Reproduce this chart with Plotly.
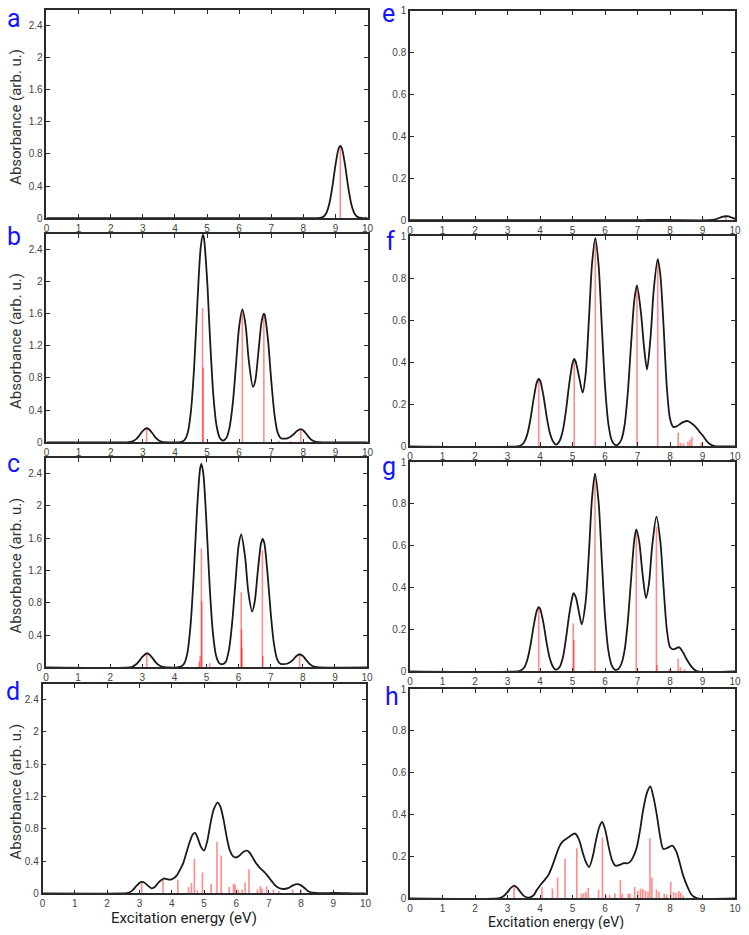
import plotly.graph_objects as go

# ---------------- data ----------------
x_ticks = [0, 1, 2, 3, 4, 5, 6, 7, 8, 9, 10]
x_tick_labels = ["0", "1", "2", "3", "4", "5", "6", "7", "8", "9", "10"]
left_y_ticks = [0, 0.4, 0.8, 1.2, 1.6, 2, 2.4]
left_y_tick_labels = ["0", "0.4", "0.8", "1.2", "1.6", "2", "2.4"]
right_y_ticks = [0, 0.2, 0.4, 0.6, 0.8, 1]
right_y_tick_labels = ["0", "0.2", "0.4", "0.6", "0.8", "1"]

# broadened spectra (energy eV, absorbance)
a_curve = [(0, 0), (8.4, 0), (8.5, 0.003), (8.6, 0.014), (8.7, 0.054), (8.8, 0.165), (8.9, 0.38),
           (9.0, 0.66), (9.1, 0.87), (9.15, 0.90), (9.2, 0.87), (9.3, 0.66), (9.4, 0.38), (9.5, 0.165),
           (9.6, 0.054), (9.7, 0.014), (9.8, 0.003), (9.9, 0), (10, 0)]
b_curve = [(0, 0), (2.5, 0), (2.6, 0.004), (2.7, 0.015), (2.8, 0.042), (2.9, 0.089), (3.0, 0.143),
           (3.12, 0.175), (3.2, 0.16), (3.3, 0.112), (3.4, 0.059), (3.5, 0.024), (3.6, 0.007), (3.7, 0.002),
           (3.8, 0), (4.1, 0), (4.2, 0.005), (4.3, 0.029), (4.4, 0.12), (4.5, 0.39), (4.6, 0.94), (4.7, 1.73),
           (4.8, 2.41), (4.87, 2.58), (4.9, 2.55), (5.0, 2.04), (5.1, 1.24), (5.2, 0.57), (5.3, 0.20),
           (5.4, 0.053), (5.5, 0.022), (5.6, 0.053), (5.7, 0.18), (5.8, 0.474), (5.9, 0.95), (6.0, 1.437),
           (6.1, 1.654), (6.2, 1.46), (6.3, 1.02), (6.43, 0.69), (6.5, 0.76), (6.6, 1.12), (6.7, 1.50),
           (6.77, 1.60), (6.8, 1.58), (6.9, 1.27), (7.0, 0.77), (7.1, 0.35), (7.2, 0.12), (7.3, 0.05),
           (7.4, 0.045), (7.5, 0.05), (7.6, 0.07), (7.7, 0.1), (7.8, 0.14), (7.92, 0.165), (8.0, 0.147),
           (8.1, 0.1), (8.2, 0.05), (8.3, 0.02), (8.4, 0.006), (8.5, 0.002), (8.6, 0), (10, 0)]
c_curve = [(0, 0), (2.6, 0), (2.7, 0.01), (2.8, 0.035), (2.9, 0.077), (3.0, 0.13), (3.14, 0.175),
           (3.2, 0.167), (3.3, 0.125), (3.4, 0.072), (3.5, 0.032), (3.6, 0.011), (3.7, 0.003), (3.8, 0),
           (4.1, 0), (4.2, 0.009), (4.3, 0.044), (4.4, 0.17), (4.5, 0.51), (4.6, 1.13), (4.7, 1.92),
           (4.8, 2.46), (4.84, 2.52), (4.9, 2.40), (5.0, 1.77), (5.1, 0.99), (5.2, 0.42), (5.3, 0.14),
           (5.4, 0.05), (5.5, 0.04), (5.6, 0.07), (5.7, 0.22), (5.8, 0.56), (5.9, 1.05), (6.0, 1.51),
           (6.08, 1.645), (6.2, 1.37), (6.3, 0.94), (6.42, 0.69), (6.5, 0.81), (6.6, 1.2), (6.7, 1.54),
           (6.75, 1.59), (6.8, 1.54), (6.9, 1.16), (7.0, 0.67), (7.1, 0.29), (7.2, 0.1), (7.3, 0.045),
           (7.4, 0.04), (7.5, 0.045), (7.6, 0.065), (7.7, 0.097), (7.8, 0.142), (7.9, 0.163), (8.0, 0.142),
           (8.1, 0.094), (8.2, 0.047), (8.3, 0.018), (8.4, 0.005), (8.5, 0), (10, 0)]
d_curve = [(0, 0), (2.5, 0), (2.6, 0.003), (2.7, 0.015), (2.8, 0.045), (2.9, 0.09), (3.0, 0.13),
           (3.06, 0.143), (3.15, 0.135), (3.25, 0.1), (3.38, 0.063), (3.5, 0.09), (3.6, 0.14), (3.75, 0.185),
           (3.85, 0.177), (3.95, 0.17), (4.05, 0.185), (4.15, 0.22), (4.25, 0.29), (4.35, 0.37), (4.45, 0.5),
           (4.55, 0.63), (4.65, 0.73), (4.72, 0.75), (4.8, 0.69), (4.9, 0.58), (5.0, 0.53), (5.1, 0.65),
           (5.2, 0.87), (5.3, 1.04), (5.42, 1.125), (5.5, 1.08), (5.6, 0.92), (5.7, 0.70), (5.8, 0.53),
           (5.9, 0.46), (5.98, 0.445), (6.1, 0.47), (6.2, 0.51), (6.32, 0.53), (6.4, 0.51), (6.5, 0.45),
           (6.6, 0.38), (6.7, 0.33), (6.8, 0.29), (6.9, 0.25), (7.0, 0.2), (7.1, 0.15), (7.2, 0.1),
           (7.3, 0.07), (7.45, 0.055), (7.6, 0.065), (7.75, 0.1), (7.9, 0.115), (8.0, 0.1), (8.1, 0.07),
           (8.2, 0.035), (8.3, 0.015), (8.45, 0.006), (8.7, 0.004), (9.0, 0.006), (9.3, 0.005), (9.6, 0.001),
           (10, 0)]
e_curve = [(0, 0), (7.0, 0), (7.3, 0.001), (7.6, 0.002), (7.9, 0.001), (8.3, 0), (9.2, 0), (9.3, 0.001),
           (9.4, 0.004), (9.5, 0.01), (9.6, 0.016), (9.72, 0.019), (9.8, 0.018), (9.9, 0.012), (10, 0.006)]
f_curve = [(0, 0), (3.3, 0), (3.4, 0.004), (3.5, 0.017), (3.6, 0.053), (3.7, 0.125), (3.8, 0.224),
           (3.9, 0.304), (3.96, 0.32), (4.0, 0.313), (4.1, 0.244), (4.2, 0.144), (4.3, 0.064), (4.4, 0.023),
           (4.5, 0.008), (4.6, 0.025), (4.7, 0.075), (4.8, 0.173), (4.9, 0.30), (5.0, 0.396), (5.05, 0.415),
           (5.1, 0.40), (5.2, 0.33), (5.31, 0.255), (5.4, 0.34), (5.5, 0.595), (5.6, 0.87), (5.7, 0.99),
           (5.8, 0.862), (5.9, 0.57), (6.0, 0.284), (6.1, 0.108), (6.2, 0.031), (6.33, 0.005), (6.4, 0.008),
           (6.5, 0.031), (6.6, 0.10), (6.7, 0.257), (6.8, 0.485), (6.9, 0.695), (6.98, 0.765), (7.1, 0.64),
           (7.2, 0.47), (7.29, 0.365), (7.4, 0.52), (7.5, 0.75), (7.62, 0.89), (7.7, 0.815), (7.8, 0.57),
           (7.9, 0.28), (8.0, 0.13), (8.1, 0.092), (8.2, 0.095), (8.3, 0.105), (8.4, 0.115), (8.55, 0.12),
           (8.7, 0.105), (8.8, 0.09), (8.9, 0.07), (9.0, 0.052), (9.1, 0.03), (9.2, 0.013), (9.3, 0.004),
           (9.4, 0), (10, 0)]
g_curve = [(0, 0), (3.3, 0), (3.4, 0.004), (3.5, 0.016), (3.6, 0.051), (3.7, 0.12), (3.8, 0.215),
           (3.9, 0.29), (3.96, 0.307), (4.0, 0.3), (4.1, 0.234), (4.2, 0.138), (4.3, 0.061), (4.4, 0.021),
           (4.48, 0.008), (4.6, 0.02), (4.7, 0.065), (4.8, 0.16), (4.9, 0.275), (5.0, 0.36), (5.03, 0.374),
           (5.1, 0.355), (5.2, 0.28), (5.28, 0.225), (5.4, 0.33), (5.5, 0.56), (5.6, 0.83), (5.69, 0.945),
           (5.8, 0.81), (5.9, 0.53), (6.0, 0.26), (6.1, 0.1), (6.2, 0.03), (6.3, 0.008), (6.4, 0.01),
           (6.5, 0.035), (6.6, 0.1), (6.7, 0.24), (6.8, 0.44), (6.9, 0.63), (6.96, 0.678), (7.05, 0.62),
           (7.15, 0.47), (7.26, 0.35), (7.35, 0.42), (7.45, 0.6), (7.58, 0.739), (7.7, 0.62), (7.8, 0.4),
           (7.9, 0.2), (8.0, 0.115), (8.1, 0.105), (8.28, 0.115), (8.4, 0.09), (8.5, 0.06), (8.65, 0.024),
           (8.75, 0.008), (8.85, 0), (10, 0)]
h_curve = [(0, 0), (2.7, 0), (2.8, 0.004), (2.9, 0.014), (3.0, 0.03), (3.1, 0.05), (3.2, 0.061), (3.3, 0.05),
           (3.4, 0.03), (3.5, 0.012), (3.65, 0.003), (3.8, 0.015), (3.9, 0.04), (4.04, 0.07), (4.15, 0.09),
           (4.25, 0.11), (4.4, 0.165), (4.5, 0.21), (4.6, 0.25), (4.7, 0.272), (4.9, 0.295), (5.08, 0.31),
           (5.2, 0.28), (5.31, 0.22), (5.42, 0.17), (5.51, 0.15), (5.62, 0.2), (5.71, 0.27), (5.82, 0.34),
           (5.91, 0.365), (6.0, 0.33), (6.12, 0.24), (6.22, 0.18), (6.32, 0.156), (6.45, 0.16), (6.58, 0.168),
           (6.7, 0.168), (6.8, 0.18), (6.9, 0.21), (6.98, 0.247), (7.08, 0.33), (7.18, 0.43), (7.3, 0.51),
           (7.39, 0.535), (7.48, 0.49), (7.59, 0.40), (7.7, 0.29), (7.79, 0.236), (7.9, 0.24), (8.07, 0.252),
           (8.2, 0.22), (8.3, 0.168), (8.4, 0.11), (8.55, 0.05), (8.65, 0.02), (8.75, 0.006), (8.85, 0),
           (10, 0)]

# oscillator sticks (energy eV, strength)
a_sticks_x = [9.15]
a_sticks_y = [0.90]
b_sticks_x = [3.12, 4.86, 4.88, 6.10, 6.77, 7.23, 7.60, 7.92]
b_sticks_y = [0.17, 1.67, 0.93, 1.65, 1.60, 0.02, 0.015, 0.165]
c_sticks_x = [3.14, 4.77, 4.80, 4.84, 4.85, 5.10, 6.08, 6.09, 6.10, 6.74, 6.75, 7.21, 7.90]
c_sticks_y = [0.175, 0.07, 0.14, 1.47, 0.82, 0.05, 0.93, 0.47, 0.245, 1.45, 0.14, 0.01, 0.163]
d_sticks_x = [3.07, 3.73, 4.19, 4.52, 4.61, 4.70, 4.79, 4.95, 5.22, 5.40, 5.53, 5.78, 5.91, 5.96, 6.06,
              6.18, 6.27, 6.39, 6.65, 6.74, 6.79, 6.94, 7.15, 7.32, 7.74, 8.00]
d_sticks_y = [0.143, 0.17, 0.17, 0.08, 0.13, 0.43, 0.04, 0.26, 0.12, 0.64, 0.47, 0.08, 0.12, 0.11, 0.05,
              0.05, 0.14, 0.30, 0.05, 0.09, 0.06, 0.09, 0.05, 0.03, 0.05, 0.05]
e_sticks_x = [9.72]
e_sticks_y = [0.017]
f_sticks_x = [3.96, 5.05, 5.70, 6.98, 7.62, 8.25, 8.32, 8.41, 8.55, 8.61, 8.67, 8.96]
f_sticks_y = [0.32, 0.41, 0.99, 0.76, 0.89, 0.064, 0.016, 0.013, 0.02, 0.031, 0.044, 0.016]
g_sticks_x = [3.96, 5.02, 5.04, 5.55, 5.69, 6.96, 7.58, 7.60, 7.97, 8.02, 8.25, 8.32, 8.45]
g_sticks_y = [0.305, 0.23, 0.15, 0.005, 0.93, 0.665, 0.69, 0.03, 0.01, 0.012, 0.06, 0.02, 0.01]
h_sticks_x = [3.20, 4.06, 4.38, 4.54, 4.77, 5.13, 5.27, 5.34, 5.41, 5.48, 5.80, 5.92, 6.02, 6.14, 6.30,
              6.47, 6.53, 6.71, 6.77, 6.91, 7.01, 7.09, 7.16, 7.24, 7.32, 7.38, 7.44, 7.58, 7.66, 7.82,
              7.90, 8.02, 8.11, 8.19, 8.27, 8.33, 8.40]
h_sticks_y = [0.058, 0.054, 0.047, 0.10, 0.19, 0.24, 0.022, 0.025, 0.03, 0.05, 0.04, 0.29, 0.024, 0.016,
              0.025, 0.087, 0.022, 0.024, 0.024, 0.054, 0.035, 0.046, 0.046, 0.038, 0.032, 0.287, 0.10,
              0.043, 0.032, 0.022, 0.019, 0.079, 0.03, 0.027, 0.035, 0.027, 0.014]

y_title = "Absorbance (arb. u.)"
x_title = "Excitation energy (eV)"

# ---------------- layout ----------------
W, H = 749, 935
panels = [
    # letter, curve, sticks x, sticks y, box (left, right, top, bottom px), ymax, side, letter pos
    ("a", a_curve, a_sticks_x, a_sticks_y, (44, 369, 4, 215), 2.59, "L", (11, 13)),
    ("b", b_curve, b_sticks_x, b_sticks_y, (44, 369, 231, 442), 2.59, "L", (11, 234)),
    ("c", c_curve, c_sticks_x, c_sticks_y, (43.5, 368.5, 458, 670), 2.59, "L", (11, 463)),
    ("d", d_curve, d_sticks_x, d_sticks_y, (40, 367, 687, 899), 2.59, "L", (10, 694)),
    ("e", e_curve, e_sticks_x, e_sticks_y, (412, 741, 5, 217), 1.0, "R", (390, 8)),
    ("f", f_curve, f_sticks_x, f_sticks_y, (412, 741, 233, 446), 1.0, "R", (392, 239)),
    ("g", g_curve, g_sticks_x, g_sticks_y, (412, 741, 462, 674), 1.0, "R", (391, 466)),
    ("h", h_curve, h_sticks_x, h_sticks_y, (412, 741, 692, 904), 1.0, "R", (394, 699)),
]

fig = go.Figure()
annotations = []
tick_font = dict(family="Liberation Sans, Arial, sans-serif", size=10, color="#444")

for i, (letter, curve, sx, sy, box, ymax, side, lpos) in enumerate(panels, start=1):
    l, r, t, b = box
    xa = "x" if i == 1 else f"x{i}"
    ya = "y" if i == 1 else f"y{i}"
    fig.add_trace(go.Bar(x=sx, y=sy, width=0.05, marker=dict(color="rgba(255,0,0,0.45)", line=dict(width=0)),
                         xaxis=xa, yaxis=ya, showlegend=False, hoverinfo="skip"))
    cx = [p[0] for p in curve]
    cy = [p[1] for p in curve]
    fig.add_trace(go.Scatter(x=cx, y=cy, mode="lines", line=dict(color="#1a1a1a", width=1.8, shape="spline", smoothing=0.8),
                             xaxis=xa, yaxis=ya, showlegend=False, hoverinfo="skip"))
    axis_common = dict(showline=True, linecolor="#2a2a2a", linewidth=1.6, mirror="ticks", ticks="inside",
                       ticklen=4, tickwidth=1, tickcolor="#2a2a2a", showgrid=False, zeroline=False,
                       tickfont=tick_font, fixedrange=True)
    xkey = "xaxis" if i == 1 else f"xaxis{i}"
    ykey = "yaxis" if i == 1 else f"yaxis{i}"
    fig.layout[xkey] = dict(domain=[l / W, r / W], range=[0, 10], tickvals=x_ticks, ticktext=x_tick_labels,
                            anchor=ya, **axis_common)
    if side == "L":
        yt, ytl = left_y_ticks, left_y_tick_labels
    else:
        yt, ytl = right_y_ticks, right_y_tick_labels
    fig.layout[ykey] = dict(domain=[1 - b / H, 1 - t / H], range=[0, ymax], tickvals=yt, ticktext=ytl,
                            anchor=xa, **axis_common)
    annotations.append(dict(text=letter, x=lpos[0] / W, y=1 - lpos[1] / H, xref="paper", yref="paper",
                            xanchor="center", yanchor="middle", showarrow=False,
                            font=dict(family="Roboto, sans-serif", size=25, color="#1414ff")))
    if side == "L":
        annotations.append(dict(text=y_title, x=13 / W, y=1 - ((t + b) / 2 + 3) / H, xref="paper", yref="paper",
                                xanchor="center", yanchor="middle", textangle=-90, showarrow=False,
                                font=dict(family="Roboto, sans-serif", size=15, color="#333")))

annotations.append(dict(text=x_title, x=183 / W, y=1 - 924 / H, xref="paper", yref="paper",
                        xanchor="center", yanchor="middle", showarrow=False,
                        font=dict(family="Roboto, sans-serif", size=15, color="#222")))
annotations.append(dict(text=x_title, x=560 / W, y=1 - 927.5 / H, xref="paper", yref="paper",
                        xanchor="center", yanchor="middle", showarrow=False, height=14,
                        valign="middle", borderpad=0,
                        font=dict(family="Roboto, sans-serif", size=14, color="#222")))

fig.update_layout(width=W, height=H, margin=dict(l=0, r=0, t=0, b=0), paper_bgcolor="white",
                  plot_bgcolor="white", barmode="overlay", annotations=annotations, showlegend=False)

fig.write_html("out.html", config={"displayModeBar": False})
